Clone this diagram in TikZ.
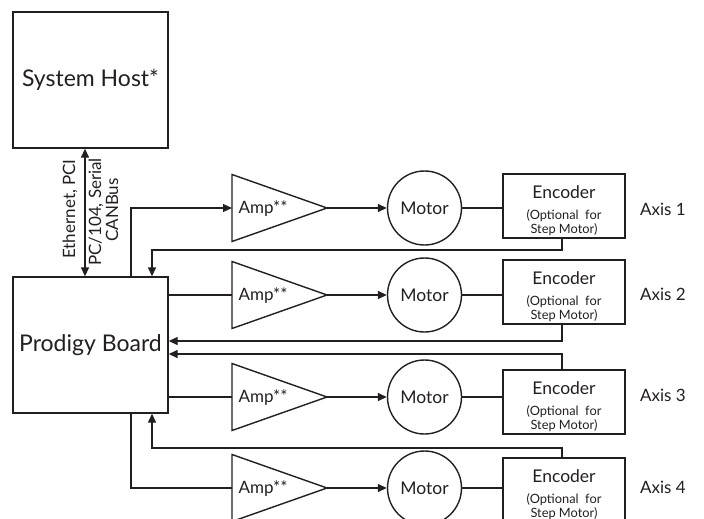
\documentclass[tikz,border=0pt]{standalone}
\usepackage{fontspec}
\setmainfont{Lato}
\usetikzlibrary{arrows.meta}
\definecolor{ink}{HTML}{231F20}
\begin{document}
\begin{tikzpicture}[x=1pt,y=-1pt,line width=1.4pt,draw=ink,text=ink,
  arr/.style={-{Triangle[length=9pt,width=8pt]}},
  dbl/.style={{Triangle[length=9pt,width=8pt]}-{Triangle[length=9pt,width=8pt]}},
  bigbox/.style={draw,rectangle,minimum width=155pt,minimum height=136pt,inner sep=0pt,font=\fontsize{23}{27}\selectfont},
  motor/.style={draw,circle,minimum size=74pt,inner sep=0pt,font=\fontsize{17.5}{20}\selectfont},
  encbox/.style={draw,rectangle,minimum width=122pt,minimum height=64pt,inner sep=0pt},
  enctxt/.style={anchor=base,inner sep=0pt,font=\fontsize{17.5}{20}\selectfont},
  smalltxt/.style={anchor=base,inner sep=0pt,font=\fontsize{12.8}{14}\selectfont},
  lbl/.style={inner sep=0pt,font=\fontsize{17}{20}\selectfont},
  amptxt/.style={anchor=west,inner sep=0pt,font=\fontsize{17}{20}\selectfont},
  bus/.style={rotate=90,anchor=base,inner sep=0pt,font=\fontsize{17}{20}\selectfont}]
\useasboundingbox (0,0) rectangle (704,519);
\clip (0,0) rectangle (704,519);

% main boxes
\node[bigbox] (host) at (90.5,80) {System Host*};
\node[bigbox] (board) at (90.5,345) {Prodigy Board};

% bus
\coordinate (busx) at (85,0);
\draw[dbl] (busx |- host.south) -- (busx |- board.north);
\node[bus] (eth) at (75,209) {Ethernet, PCI};
\node[bus] (pc) at (101,212) {PC/104, Serial};
\node[bus] (can) at (118,210) {CANBus};

% helper x positions
\coordinate (xo) at (131,0);
\coordinate (xr) at (152,0);
\coordinate (xe) at (562,0);

% amplifiers
\foreach \i/\y in {1/208,2/295,3/397,4/488}{
  \draw (232,\y-33.5) -- (327,\y) -- (232,\y+33.5) -- cycle;
  \coordinate (amp\i in) at (232,\y);
  \coordinate (amp\i out) at (327,\y);
  \node[amptxt] (amp\i t) at (238,\y+1) {Amp**};
  \node[motor] (mot\i) at (424.5,\y) {Motor};
}

% encoders
\foreach \i/\t in {1/174,2/260,3/370,4/458}{
  \node[encbox] (enc\i) at (564,\t+32) {};
  \node[enctxt] (enc\i a) at (564,\t+24) {Encoder};
  \node[smalltxt] (enc\i b) at (564,\t+45) {(Optional\ \ for};
  \node[smalltxt] (enc\i c) at (564,\t+59) {Step Motor)};
}

% axis labels
\node[lbl] (ax1) at (663,209) {Axis 1};
\node[lbl] (ax2) at (663,294) {Axis 2};
\node[lbl] (ax3) at (663,395) {Axis 3};
\node[lbl] (ax4) at (663,487) {Axis 4};

% forward paths
\foreach \i in {1,2,3,4}{
  \draw[arr] (amp\i out) -- (mot\i.west);
  \draw (mot\i.east) -- (enc\i.west |- mot\i.east);
}
\draw[arr] (xo |- board.north) |- (amp1in);
\draw (board.east |- amp2in) -- (amp2in);
\draw (board.east |- amp3in) -- (amp3in);
\draw (xo |- board.south) |- (amp4in);

% return paths
\coordinate (r1) at (0,250);
\coordinate (r2) at (0,341);
\coordinate (r3) at (0,354);
\coordinate (r4) at (0,448);
\draw[arr] (xe |- enc1.south) |- (xr |- r1) -- (xr |- board.north);
\draw[arr] (xe |- enc2.south) |- (board.east |- r2);
\draw[arr] (xe |- enc3.north) |- (board.east |- r3);
\draw[arr] (xe |- enc4.north) |- (xr |- r4) -- (xr |- board.south);
\end{tikzpicture}
\end{document}
